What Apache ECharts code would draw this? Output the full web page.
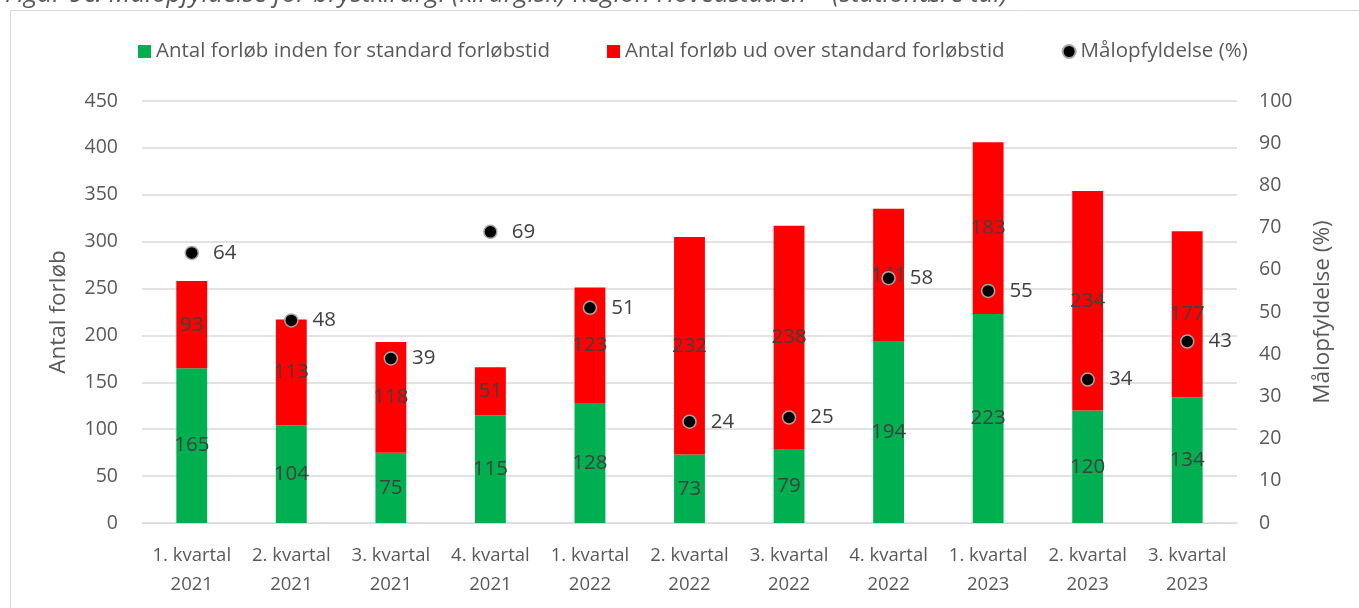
<!DOCTYPE html>
<html>
<head>
<meta charset="utf-8">
<script src="https://cdn.jsdelivr.net/npm/echarts@6/dist/echarts.min.js"></script>
<style>
    html, body { margin: 0; padding: 0; background: #fff; }
    #chart { width: 1359px; height: 608px; }
</style>
</head>
<body>
<div id="chart"></div>
<script>
const FONT = '"Open Sans", "Noto Sans", sans-serif';
const TEXT_COLOR = '#595959';
const LABEL_COLOR = '#404040';

const quarters = [
    '1. kvartal\n2021', '2. kvartal\n2021', '3. kvartal\n2021', '4. kvartal\n2021',
    '1. kvartal\n2022', '2. kvartal\n2022', '3. kvartal\n2022', '4. kvartal\n2022',
    '1. kvartal\n2023', '2. kvartal\n2023', '3. kvartal\n2023'
];
const withinStandard = [165, 104, 75, 115, 128, 73, 79, 194, 223, 120, 134];
const overStandard = [93, 113, 118, 51, 123, 232, 238, 141, 183, 234, 177];
const goalPercent = [64, 48, 39, 69, 51, 24, 25, 58, 55, 34, 43];

const chart = echarts.init(document.getElementById('chart'));

chart.setOption({
    animation: false,
    textStyle: { fontFamily: FONT },
    title: {
        text: 'Figur 9c: Målopfyldelse for brystkirurgi (kirurgisk) Region Hovedstaden – (stationære tal)',
        left: 0,
        top: -23,
        textStyle: { fontFamily: FONT, fontSize: 26, fontStyle: 'italic', fontWeight: 'normal', color: TEXT_COLOR }
    },
    graphic: [{
        type: 'rect',
        shape: { x: 10.5, y: 10.5, width: 1400, height: 700 },
        style: { fill: '#fff', stroke: '#d9d9d9', lineWidth: 1 },
        z: -1
    }],
    legend: {
        top: 36,
        left: 133,
        itemGap: 57,
        itemWidth: 13,
        itemHeight: 13,
        textStyle: { fontFamily: FONT, fontSize: 20.5, color: TEXT_COLOR },
        data: [
            { name: 'Antal forløb inden for standard forløbstid', icon: 'rect' },
            { name: 'Antal forløb ud over standard forløbstid', icon: 'rect' },
            { name: 'Målopfyldelse (%)', icon: 'circle' }
        ]
    },
    grid: {
        left: 142,
        right: 122,
        top: 101,
        bottom: 85,
        containLabel: false
    },
    xAxis: {
        type: 'category',
        data: quarters,
        axisLine: { lineStyle: { color: '#d9d9d9' } },
        axisTick: { show: false },
        axisLabel: { interval: 0, fontSize: 18.5, color: TEXT_COLOR, margin: 18, lineHeight: 29 }
    },
    yAxis: [{
        type: 'value',
        min: 0,
        max: 450,
        interval: 50,
        name: 'Antal forløb',
        nameLocation: 'middle',
        nameGap: 72,
        nameTextStyle: { fontSize: 22.5, color: TEXT_COLOR },
        axisLabel: { fontSize: 19.5, color: TEXT_COLOR, margin: 24 },
        splitLine: { lineStyle: { color: '#d9d9d9', width: 1.5 } }
    }, {
        type: 'value',
        min: 0,
        max: 100,
        interval: 10,
        name: 'Målopfyldelse (%)',
        nameLocation: 'middle',
        nameGap: 74,
        nameTextStyle: { fontSize: 22.5, color: TEXT_COLOR },
        axisLabel: { fontSize: 19.5, color: TEXT_COLOR, margin: 22 },
        splitLine: { show: false }
    }],
    series: [{
        name: 'Antal forløb inden for standard forløbstid',
        type: 'bar',
        stack: 'forloeb',
        barWidth: '31%',
        data: withinStandard,
        itemStyle: { color: '#00b050' },
        label: { show: true, position: 'inside', fontSize: 20.5, color: LABEL_COLOR }
    }, {
        name: 'Antal forløb ud over standard forløbstid',
        type: 'bar',
        stack: 'forloeb',
        data: overStandard,
        itemStyle: { color: '#ff0000' },
        label: { show: true, position: 'inside', fontSize: 20.5, color: LABEL_COLOR }
    }, {
        name: 'Målopfyldelse (%)',
        type: 'line',
        yAxisIndex: 1,
        data: goalPercent,
        symbol: 'circle',
        symbolSize: 13,
        lineStyle: { width: 0, opacity: 0 },
        itemStyle: { color: '#000', borderColor: '#a6a6a6', borderWidth: 1.5 },
        label: { show: true, position: 'right', distance: 14, fontSize: 20.5, color: LABEL_COLOR },
        z: 5
    }]
});
</script>
</body>
</html>
